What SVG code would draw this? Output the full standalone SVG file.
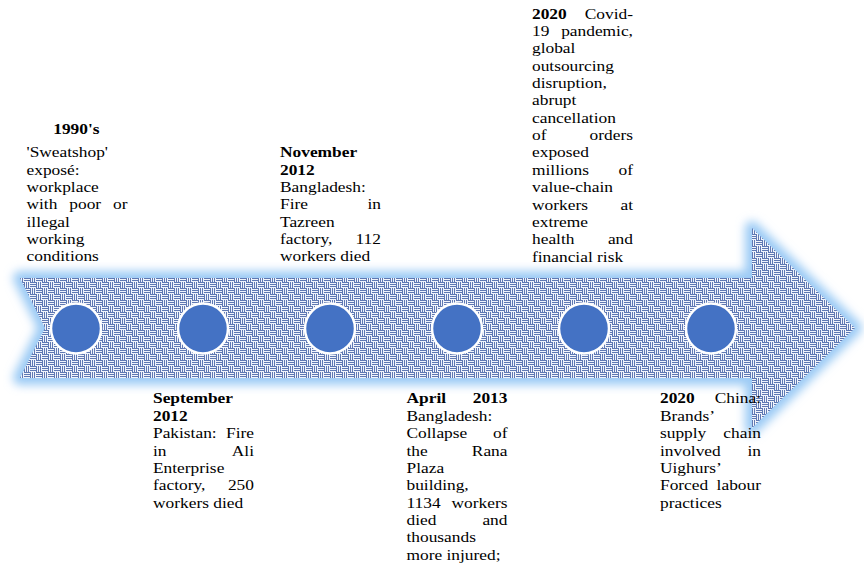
<svg xmlns="http://www.w3.org/2000/svg" width="864" height="567" viewBox="0 0 864 567">
<style>
.t{font-family:"Liberation Serif","Times New Roman",serif;font-size:15.1px;fill:#000}
.b{font-weight:bold}
.e{text-anchor:end}
.m{text-anchor:middle}
.dot{fill:#4472c4;stroke:#ffffff;stroke-width:2.5}
</style>
<defs>
<pattern id="weave" width="12" height="12" patternUnits="userSpaceOnUse">
<rect width="12" height="12" fill="#c3cde5"/>
<path d="M0,0.5h6M0,2.5h6M0,4.5h6M6,6.5h6M6,8.5h6M6,10.5h6M6.5,0v6M8.5,0v6M10.5,0v6M0.5,6v6M2.5,6v6M4.5,6v6" stroke="#6079b3" stroke-width="1" fill="none"/>
<path d="M0,1.5h6M0,3.5h6M0,5.5h6M6,7.5h6M6,9.5h6M6,11.5h6M7.5,0v6M9.5,0v6M11.5,0v6M1.5,6v6M3.5,6v6M5.5,6v6" stroke="#f1f4fb" stroke-width="1" fill="none"/>
</pattern>
<filter id="glow" x="-10%" y="-30%" width="120%" height="160%">
<feGaussianBlur stdDeviation="5"/>
</filter>
</defs>
<rect width="864" height="567" fill="#ffffff"/>
<g id="connectors">
<g id="timeline-arrow">
<path d="M20,278 L752,278 L752,228 L855,328 L752,428 L752,378 L20,378 L45,328 Z" fill="#9ccbf5" stroke="#9ccbf5" stroke-width="14" stroke-linejoin="round" filter="url(#glow)"/>
<path d="M20,278 L752,278 L752,228 L855,328 L752,428 L752,378 L20,378 L45,328 Z" fill="url(#weave)"/>
</g>
</g>
<g id="event-1990s">
<circle class="dot" cx="76" cy="328.5" r="25"/>
<g transform="translate(26.5,0) scale(1.15,1)">
<text class="t b m" x="43.4" y="134.3">1990's</text>
<text class="t" x="0" y="157.4">'Sweatshop'</text>
<text class="t" x="0" y="174.75">exposé:</text>
<text class="t" x="0" y="192.1">workplace</text>
<text class="t" y="209.45"><tspan x="0">with</tspan><tspan x="37.2">poor</tspan></text>
<text class="t e" x="87.8" y="209.45">or</text>
<text class="t" x="0" y="226.8">illegal</text>
<text class="t" x="0" y="244.15">working</text>
<text class="t" x="0" y="261.5">conditions</text>
</g>
</g>
<g id="event-sep2012">
<circle class="dot" cx="203" cy="328.5" r="25"/>
<g transform="translate(153,0) scale(1.15,1)">
<text class="t b" x="0" y="403.5">September</text>
<text class="t b" x="0" y="420.85">2012</text>
<text class="t" x="0" y="438.2">Pakistan:</text><text class="t e" x="87.8" y="438.2">Fire</text>
<text class="t" x="0" y="455.55">in</text><text class="t e" x="87.8" y="455.55">Ali</text>
<text class="t" x="0" y="472.9">Enterprise</text>
<text class="t" x="0" y="490.25">factory,</text><text class="t e" x="87.8" y="490.25">250</text>
<text class="t" x="0" y="507.6">workers died</text>
</g>
</g>
<g id="event-nov2012">
<circle class="dot" cx="330" cy="328.5" r="25"/>
<g transform="translate(280,0) scale(1.15,1)">
<text class="t b" x="0" y="157.4">November</text>
<text class="t b" x="0" y="174.75">2012</text>
<text class="t" x="0" y="192.1">Bangladesh:</text>
<text class="t" x="0" y="209.45">Fire</text><text class="t e" x="87.8" y="209.45">in</text>
<text class="t" x="0" y="226.8">Tazreen</text>
<text class="t" x="0" y="244.15">factory,</text><text class="t e" x="87.8" y="244.15">112</text>
<text class="t" x="0" y="261.5">workers died</text>
</g>
</g>
<g id="event-apr2013">
<circle class="dot" cx="457" cy="328.5" r="25"/>
<g transform="translate(406.5,0) scale(1.15,1)">
<text class="t b" x="0" y="403.5">April</text><text class="t b e" x="87.8" y="403.5">2013</text>
<text class="t" x="0" y="420.85">Bangladesh:</text>
<text class="t" x="0" y="438.2">Collapse</text><text class="t e" x="87.8" y="438.2">of</text>
<text class="t" x="0" y="455.55">the</text><text class="t e" x="87.8" y="455.55">Rana</text>
<text class="t" x="0" y="472.9">Plaza</text>
<text class="t" x="0" y="490.25">building,</text>
<text class="t" x="0" y="507.6">1134</text><text class="t e" x="87.8" y="507.6">workers</text>
<text class="t" x="0" y="524.95">died</text><text class="t e" x="87.8" y="524.95">and</text>
<text class="t" x="0" y="542.3">thousands</text>
<text class="t" x="0" y="559.65">more injured;</text>
</g>
</g>
<g id="event-2020-covid">
<circle class="dot" cx="584" cy="328.5" r="25"/>
<g transform="translate(532,0) scale(1.15,1)">
<text class="t b" x="0" y="18.7">2020</text><text class="t e" x="87.8" y="18.7">Covid-</text>
<text class="t" x="0" y="36.05">19</text><text class="t e" x="87.8" y="36.05">pandemic,</text>
<text class="t" x="0" y="53.4">global</text>
<text class="t" x="0" y="70.75">outsourcing</text>
<text class="t" x="0" y="88.1">disruption,</text>
<text class="t" x="0" y="105.45">abrupt</text>
<text class="t" x="0" y="122.8">cancellation</text>
<text class="t" x="0" y="140.15">of</text><text class="t e" x="87.8" y="140.15">orders</text>
<text class="t" x="0" y="157.5">exposed</text>
<text class="t" x="0" y="174.85">millions</text><text class="t e" x="87.8" y="174.85">of</text>
<text class="t" x="0" y="192.2">value-chain</text>
<text class="t" x="0" y="209.55">workers</text><text class="t e" x="87.8" y="209.55">at</text>
<text class="t" x="0" y="226.9">extreme</text>
<text class="t" x="0" y="244.25">health</text><text class="t e" x="87.8" y="244.25">and</text>
<text class="t" x="0" y="261.6">financial risk</text>
</g>
</g>
<g id="event-2020-china">
<circle class="dot" cx="711" cy="328.5" r="25"/>
<g transform="translate(660,0) scale(1.15,1)">
<text class="t b" x="0" y="403.5">2020</text><text class="t e" x="87.8" y="403.5">China:</text>
<text class="t" x="0" y="420.85">Brands’</text>
<text class="t" x="0" y="438.2">supply</text><text class="t e" x="87.8" y="438.2">chain</text>
<text class="t" x="0" y="455.55">involved</text><text class="t e" x="87.8" y="455.55">in</text>
<text class="t" x="0" y="472.9">Uighurs’</text>
<text class="t" x="0" y="490.25">Forced</text><text class="t e" x="87.8" y="490.25">labour</text>
<text class="t" x="0" y="507.6">practices</text>
</g>
</g>
</svg>
